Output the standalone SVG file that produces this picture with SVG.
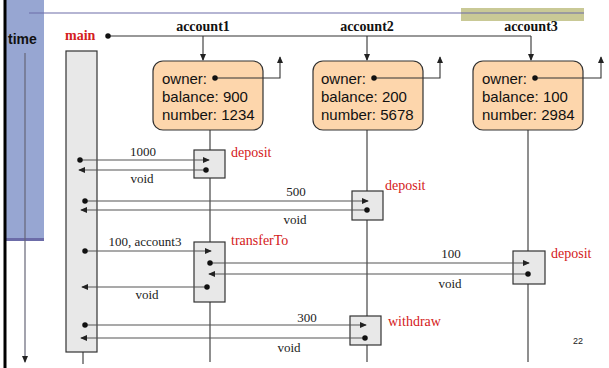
<svg xmlns="http://www.w3.org/2000/svg" width="609" height="368" viewBox="0 0 609 368">
<style>
.obj{fill:#FDD6AC;stroke:#333;stroke-width:1.2}
.act{fill:#E8E8E8;stroke:#333;stroke-width:1.2}
.ln{stroke:#333;stroke-width:1.1;fill:none}
.msg{stroke:#555;stroke-width:1.1;fill:none}
.fld{font-family:"Liberation Sans",Arial,sans-serif;font-size:15px;fill:#111}
.lbl{font-family:"Liberation Serif","Times New Roman",serif;font-size:13px;fill:#222}
.meth{font-family:"Liberation Serif","Times New Roman",serif;font-size:14px;fill:#D42020}
.hdr{font-family:"Liberation Serif","Times New Roman",serif;font-size:14px;font-weight:bold;fill:#111}
</style>
<defs>
<marker id="ah" viewBox="0 0 8 8" refX="7" refY="4" markerWidth="7" markerHeight="7" markerUnits="userSpaceOnUse" orient="auto"><path d="M0,0.5 L8,4 L0,7.5 Z" fill="#222"/></marker>
<marker id="dot" viewBox="0 0 6 6" refX="3" refY="3" markerWidth="5.5" markerHeight="5.5" markerUnits="userSpaceOnUse"><circle cx="3" cy="3" r="3" fill="#111"/></marker>
</defs>
<rect width="609" height="368" fill="#fff"/>
<g id="frame">
<rect x="6" y="0" width="38" height="240" fill="#97A6D2"/>
<rect x="6" y="238" width="38" height="3" fill="#6C6CA8"/>
<rect x="3.5" y="0" width="3" height="368" fill="#000"/>
<rect x="461" y="8" width="123" height="13" fill="#C9C996"/>
<line x1="29" y1="13" x2="584" y2="13" stroke="#6C6CA8" stroke-width="1.2"/>
<text x="8" y="44" font-family="Liberation Sans,Arial,sans-serif" font-size="14" font-weight="bold" fill="#111">time</text>
<line x1="25" y1="53" x2="25" y2="362" stroke="#667" stroke-width="1.2" marker-end="url(#ah)"/>
<text x="573" y="344" font-family="Liberation Sans,Arial,sans-serif" font-size="9" fill="#222">22</text>
</g>
<g id="main">
<text x="65" y="40" class="meth" font-weight="bold">main</text>
<line x1="83" y1="350" x2="83" y2="364" class="ln"/>
<rect x="66" y="51" width="31" height="301" class="act"/>
</g>
<g id="connectors">
<path d="M108,36 H531" class="ln" marker-start="url(#dot)"/>
<line x1="203" y1="36" x2="203" y2="60" class="ln" marker-end="url(#ah)"/>
<line x1="367" y1="36" x2="367" y2="60" class="ln" marker-end="url(#ah)"/>
<line x1="531" y1="36" x2="531" y2="60" class="ln" marker-end="url(#ah)"/>
<line x1="210" y1="130" x2="210" y2="362" class="ln"/>
<line x1="367" y1="130" x2="367" y2="362" class="ln"/>
<line x1="528" y1="130" x2="528" y2="362" class="ln"/>
</g>
<g id="account1">
<text x="203" y="31" class="hdr" text-anchor="middle">account1</text>
<rect x="153" y="61" width="110" height="69" rx="10" class="obj"/>
<text x="162" y="84" class="fld">owner:</text>
<text x="162" y="102" class="fld">balance: 900</text>
<text x="162" y="120" class="fld">number: 1234</text>
<path d="M215,78 H280 V57" class="ln" marker-start="url(#dot)" marker-end="url(#ah)"/>
</g>
<g id="account2">
<text x="367" y="31" class="hdr" text-anchor="middle">account2</text>
<rect x="313" y="61" width="110" height="69" rx="10" class="obj"/>
<text x="321" y="84" class="fld">owner:</text>
<text x="321" y="102" class="fld">balance: 200</text>
<text x="321" y="120" class="fld">number: 5678</text>
<path d="M374,78 H440 V57" class="ln" marker-start="url(#dot)" marker-end="url(#ah)"/>
</g>
<g id="account3">
<text x="531" y="31" class="hdr" text-anchor="middle">account3</text>
<rect x="473" y="61" width="110" height="69" rx="10" class="obj"/>
<text x="482" y="84" class="fld">owner:</text>
<text x="482" y="102" class="fld">balance: 100</text>
<text x="482" y="120" class="fld">number: 2984</text>
<path d="M535,78 H601 V57" class="ln" marker-start="url(#dot)" marker-end="url(#ah)"/>
</g>
<g id="call-deposit1">
<rect x="194" y="150" width="31" height="28" class="act"/>
<text x="231" y="157" class="meth">deposit</text>
</g>
<g id="call-deposit2">
<rect x="352" y="191" width="31" height="29" class="act"/>
<text x="385" y="190" class="meth">deposit</text>
</g>
<g id="call-transferTo">
<rect x="194" y="242" width="31" height="60" class="act"/>
<text x="231" y="245" class="meth">transferTo</text>
</g>
<g id="call-deposit3">
<rect x="513" y="251" width="32" height="33" class="act"/>
<text x="551" y="258" class="meth">deposit</text>
</g>
<g id="call-withdraw">
<rect x="350" y="316" width="31" height="29" class="act"/>
<text x="388" y="326" class="meth">withdraw</text>
</g>
<g id="messages">
<line x1="80" y1="160" x2="209" y2="160" class="msg" marker-start="url(#dot)" marker-end="url(#ah)"/>
<text x="143" y="156" class="lbl" text-anchor="middle">1000</text>
<line x1="206" y1="170" x2="79" y2="170" class="msg" marker-start="url(#dot)" marker-end="url(#ah)"/>
<text x="142" y="183" class="lbl" text-anchor="middle">void</text>
<line x1="85" y1="201" x2="368" y2="201" class="msg" marker-start="url(#dot)" marker-end="url(#ah)"/>
<text x="296" y="196" class="lbl" text-anchor="middle">500</text>
<line x1="367" y1="210" x2="81" y2="210" class="msg" marker-start="url(#dot)" marker-end="url(#ah)"/>
<text x="295" y="224" class="lbl" text-anchor="middle">void</text>
<line x1="85" y1="251" x2="211" y2="251" class="msg" marker-start="url(#dot)" marker-end="url(#ah)"/>
<text x="145" y="246" class="lbl" text-anchor="middle">100, account3</text>
<line x1="210" y1="263" x2="529" y2="263" class="msg" marker-start="url(#dot)" marker-end="url(#ah)"/>
<text x="451" y="258" class="lbl" text-anchor="middle">100</text>
<line x1="528" y1="274" x2="209" y2="274" class="msg" marker-start="url(#dot)" marker-end="url(#ah)"/>
<text x="450" y="288" class="lbl" text-anchor="middle">void</text>
<line x1="207" y1="287" x2="82" y2="287" class="msg" marker-start="url(#dot)" marker-end="url(#ah)"/>
<text x="147" y="299" class="lbl" text-anchor="middle">void</text>
<line x1="85" y1="325" x2="366" y2="325" class="msg" marker-start="url(#dot)" marker-end="url(#ah)"/>
<text x="307" y="322" class="lbl" text-anchor="middle">300</text>
<line x1="365" y1="338" x2="81" y2="338" class="msg" marker-start="url(#dot)" marker-end="url(#ah)"/>
<text x="289" y="352" class="lbl" text-anchor="middle">void</text>
</g>
</svg>
